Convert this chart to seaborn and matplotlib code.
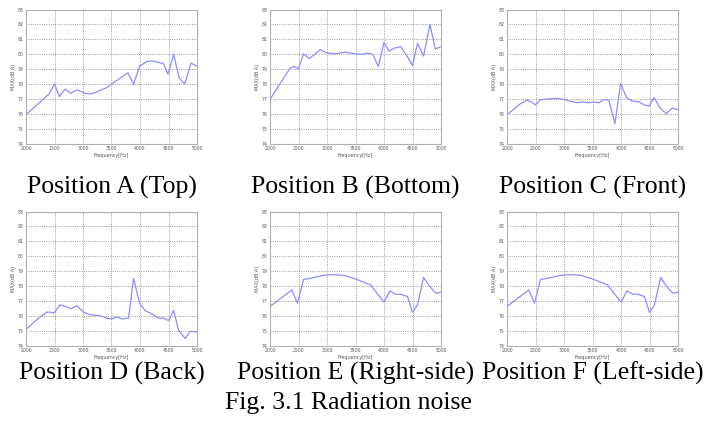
import matplotlib
matplotlib.use("Agg")
import matplotlib.pyplot as plt
import seaborn as sns
import pandas as pd

# ---- data ----
freq_a = [2000, 2410, 2498, 2586, 2686, 2785, 2890, 3055, 3155, 3418, 3506, 3788, 3887, 3993,
          4122, 4210, 4327, 4415, 4491, 4590, 4690, 4784, 4895, 5000]
level_a = [75.93, 77.35, 78.0, 77.15, 77.65, 77.37, 77.6, 77.35, 77.33, 77.75, 78.0, 78.75, 77.97, 79.2,
           79.5, 79.55, 79.45, 79.35, 78.65, 80.0, 78.38, 78.0, 79.4, 79.2]

freq_b = [2000, 2353, 2412, 2500, 2588, 2688, 2882, 2988, 3118, 3235, 3312, 3412, 3530, 3647, 3706,
          3806, 3900, 4000, 4088, 4176, 4294, 4400, 4500, 4588, 4694, 4806, 4900, 5000]
level_b = [76.96, 79.07, 79.18, 79.02, 80.03, 79.7, 80.3, 80.1, 80.03, 80.07, 80.14, 80.07, 80.0, 80.0, 80.08,
           79.97, 79.17, 80.78, 80.2, 80.4, 80.5, 79.9, 79.24, 80.73, 79.87, 82.0, 80.35, 80.5]

freq_c = [2000, 2234, 2352, 2410, 2498, 2586, 2703, 2879, 2996, 3113, 3230, 3348, 3406, 3524, 3612,
          3700, 3788, 3893, 3993, 4098, 4198, 4315, 4403, 4490, 4578, 4695, 4795, 4900, 5000]
level_c = [75.93, 76.67, 76.9, 76.83, 76.6, 76.94, 76.98, 77.03, 76.96, 76.83, 76.74, 76.8, 76.74, 76.78, 76.74,
           76.96, 76.9, 75.33, 78.02, 77.08, 76.85, 76.8, 76.6, 76.5, 77.08, 76.34, 76.0, 76.38, 76.27]

freq_d = [2000, 2188, 2363, 2422, 2492, 2598, 2686, 2791, 2891, 3008, 3125, 3242, 3300, 3418, 3506,
          3594, 3682, 3799, 3887, 3993, 4092, 4180, 4326, 4414, 4502, 4590, 4678, 4795, 4883, 5000]
level_d = [75.07, 75.73, 76.24, 76.24, 76.18, 76.73, 76.62, 76.47, 76.67, 76.24, 76.07, 76.02, 76.0, 75.84, 75.78,
           75.93, 75.78, 75.84, 78.51, 76.84, 76.33, 76.18, 75.84, 75.84, 75.67, 76.36, 75.0, 74.47, 74.96, 74.91]

freq_e = [2000, 2382, 2482, 2588, 2706, 2912, 3088, 3294, 3500, 3765, 4000, 4106, 4206, 4294, 4412,
          4500, 4588, 4694, 4794, 4912, 5000]
level_e = [76.62, 77.73, 76.84, 78.44, 78.51, 78.69, 78.76, 78.71, 78.47, 78.07, 76.91, 77.67, 77.44, 77.44, 77.29,
           76.22, 76.73, 78.58, 78.0, 77.51, 77.58]

freq_f = list(freq_e)
level_f = list(level_e)

captions = ["Position A (Top)", "Position B (Bottom)", "Position C (Front)",
            "Position D (Back)", "Position E (Right-side)", "Position F (Left-side)"]
fig_caption = "Fig. 3.1 Radiation noise"
x_ticks = [2000, 2500, 3000, 3500, 4000, 4500, 5000]
y_ticks = [74, 75, 76, 77, 78, 79, 80, 81, 82, 83]
x_label = "Frequency[Hz]"
y_label = "MAX(dB A)"

series = [(freq_a, level_a), (freq_b, level_b), (freq_c, level_c),
          (freq_d, level_d), (freq_e, level_e), (freq_f, level_f)]

# ---- layout ----
sns.set_style("white")
plt.rcParams["font.family"] = ["DejaVu Sans"]
W, H = 721, 425
fig = plt.figure(figsize=(W / 100, H / 100), dpi=100)
fig.patch.set_facecolor("white")

lefts = [26, 270, 507, 26, 270, 507]
tops = [9.5, 9.5, 9.5, 211.5, 211.5, 211.5]
aw, ah = 171, 134
caption_y = [187, 187, 187, 373, 373, 373]

for i, (fx, fy) in enumerate(series):
    l, t = lefts[i], tops[i]
    ax = fig.add_axes([l / W, 1 - (t + ah) / H, aw / W, ah / H])
    df = pd.DataFrame({"f": fx, "v": fy})
    sns.lineplot(data=df, x="f", y="v", ax=ax, color="#8c8cff", lw=0.9)
    ax.set_xlim(2000, 5000)
    ax.set_ylim(74, 83)
    ax.set_xticks(x_ticks)
    ax.set_yticks(y_ticks)
    ax.set_xticklabels([str(v) for v in x_ticks], fontsize=3.3, color="#555555")
    ax.set_yticklabels([str(v) for v in y_ticks], fontsize=3.3, color="#555555")
    ax.tick_params(axis="both", direction="in", length=1.5, width=0.4, pad=1.5, colors="#777777",
                   labelcolor="#555555")
    ax.set_xlabel(x_label, fontsize=3.5, color="#555555", labelpad=1.5)
    ax.set_ylabel(y_label, fontsize=3.5, color="#555555", labelpad=1.5)
    ax.grid(True, linestyle=":", color="#7a7a7a", lw=0.6)
    for s in ax.spines.values():
        s.set_color("#b0b0b0")
        s.set_linewidth(0.8)
    cx = (l + aw / 2) / W
    fig.text(cx, 1 - caption_y[i] / H, captions[i], ha="center", va="center",
             fontsize=18.5, family=["Liberation Serif"], color="black")

fig.text(348.5 / W, 1 - 403 / H, fig_caption, ha="center", va="center",
         fontsize=18.5, family=["Liberation Serif"], color="black")

fig.savefig("out.png", dpi=100, facecolor="white")
